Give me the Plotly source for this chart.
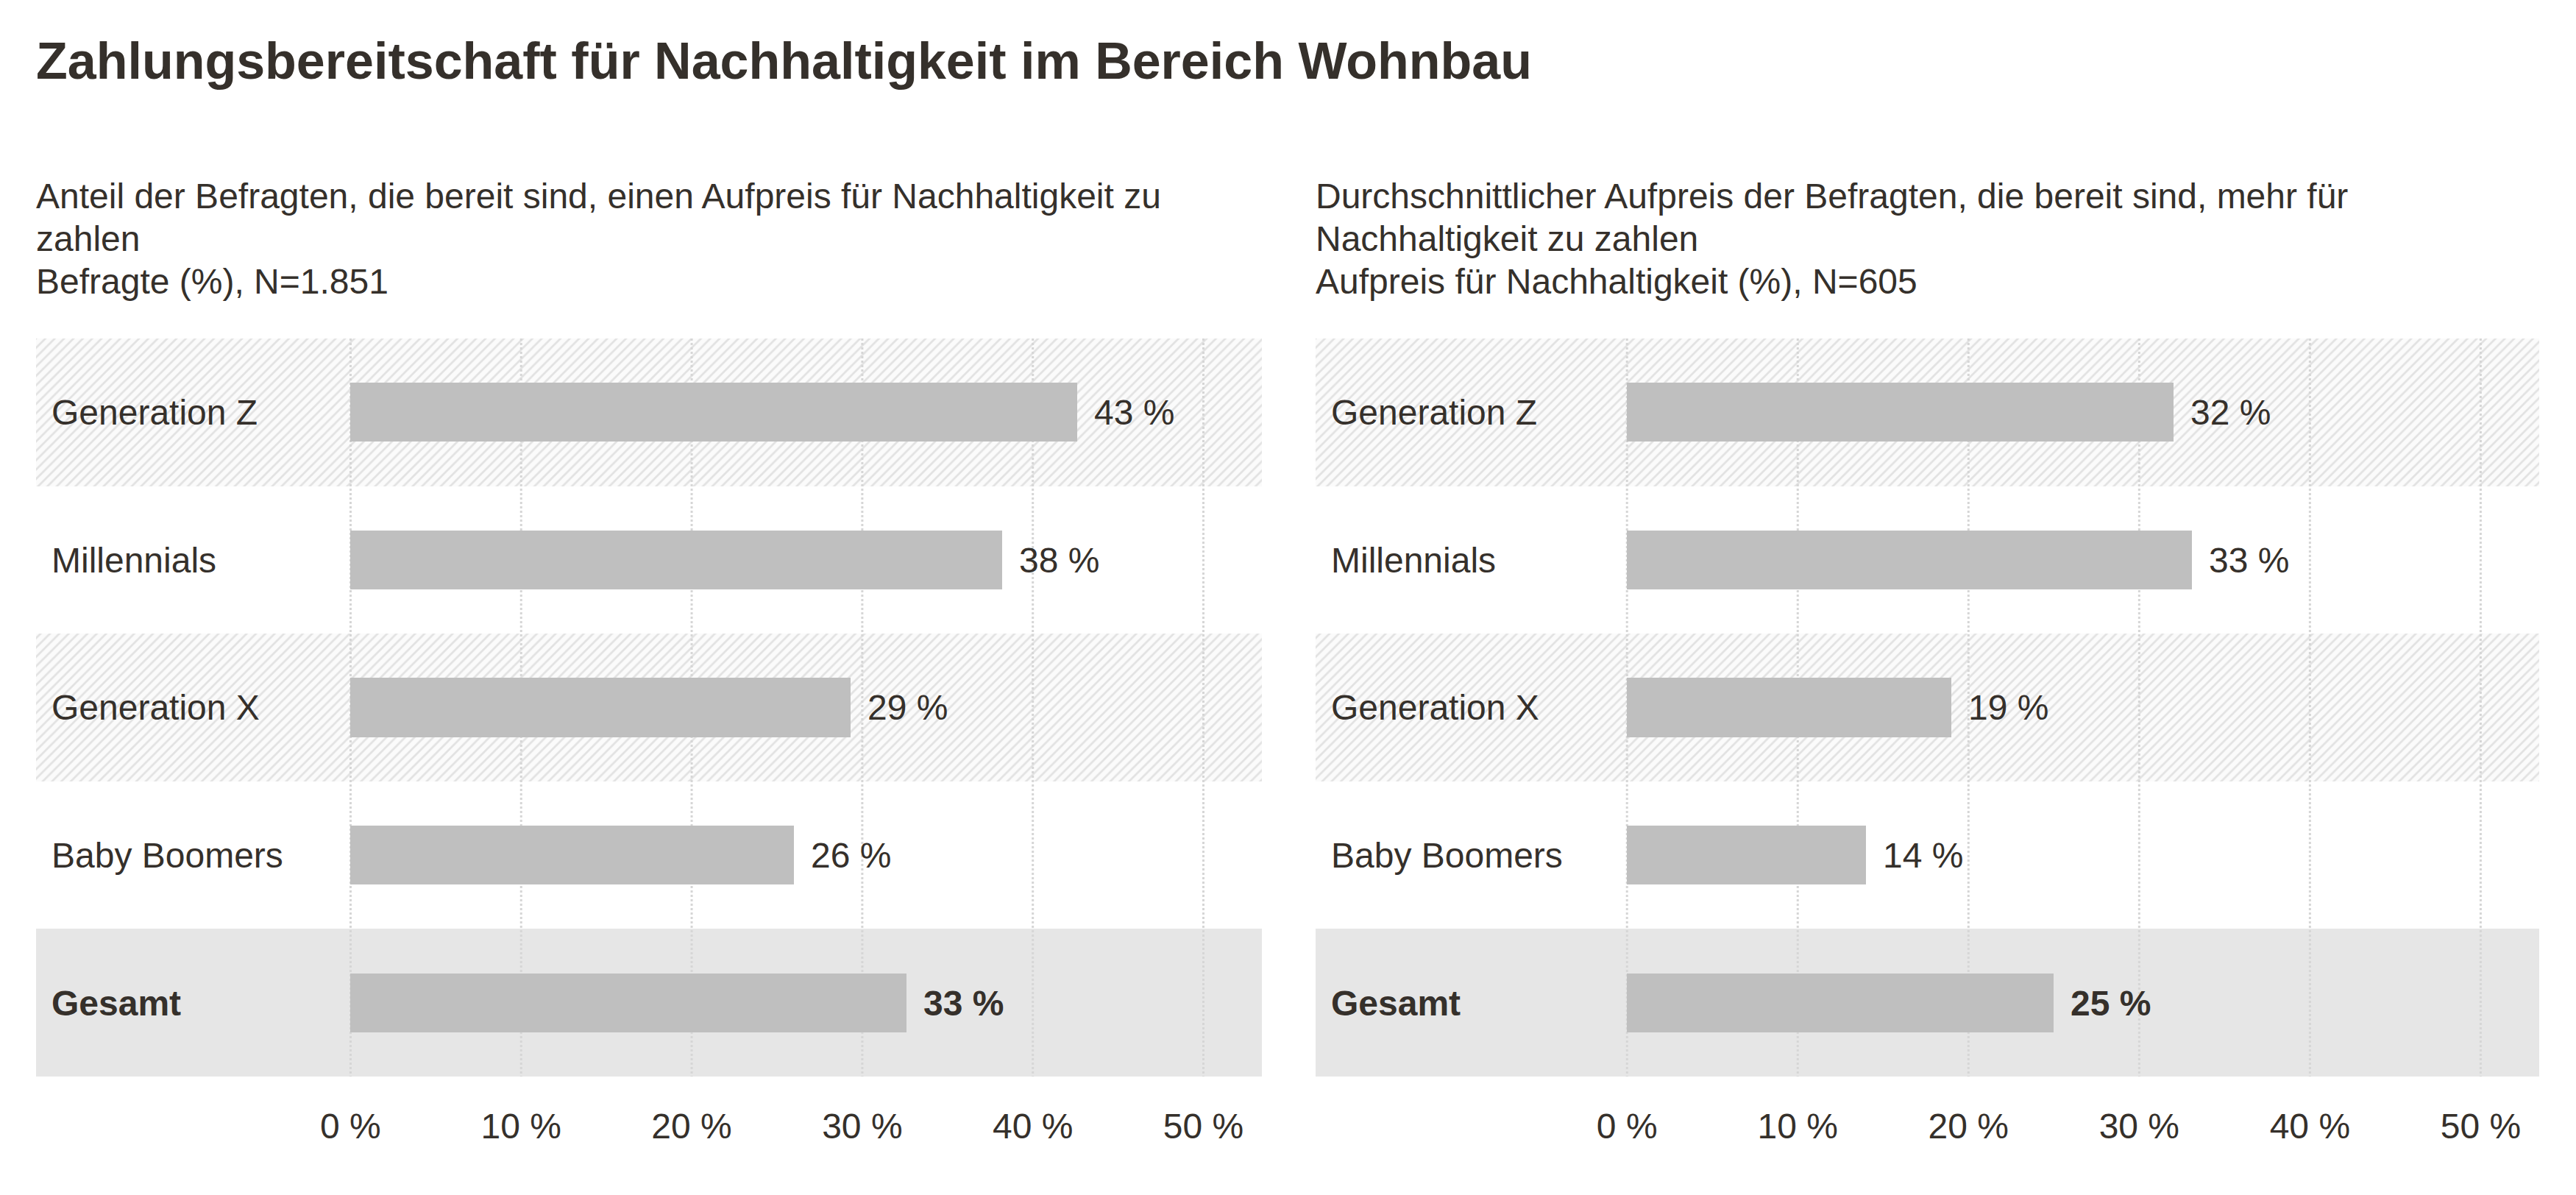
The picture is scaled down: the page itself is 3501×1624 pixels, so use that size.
import plotly.graph_objects as go

# ---------------- data ----------------
categories = ["Generation Z", "Millennials", "Generation X", "Baby Boomers", "Gesamt"]
share_willing = [42.6, 38.2, 29.3, 26.0, 32.6]      # left panel, %
avg_premium = [32.0, 33.1, 19.0, 14.0, 25.0]        # right panel, %
tick_values = [0, 10, 20, 30, 40, 50]
tick_labels = ["0 %", "10 %", "20 %", "30 %", "40 %", "50 %"]

title_text = "Zahlungsbereitschaft für Nachhaltigkeit im Bereich Wohnbau"
sub_left = ["Anteil der Befragten, die bereit sind, einen Aufpreis für Nachhaltigkeit zu",
            "zahlen", "Befragte (%), N=1.851"]
sub_right = ["Durchschnittlicher Aufpreis der Befragten, die bereit sind, mehr für",
             "Nachhaltigkeit zu zahlen", "Aufpreis für Nachhaltigkeit (%), N=605"]

# ---------------- style ----------------
W, H = 3501, 1624
OFF = 8                       # default page body margin
FW, FH = W - 2 * OFF, H - 2 * OFF
FONT = "Liberation Sans, Arial, Helvetica, sans-serif"
TXT = "#35302b"
BAR = "#bfbfbf"
BAND_SOLID = "#e6e6e6"
GRID = "#d6d6d6"
FS = 48


def px(x):
    return (x - OFF) / FW


def py(y):
    return 1 - (y - OFF) / FH


panels = [
    dict(vals=share_willing, sub=sub_left, x0=49, x1=1715, rng=[-18.44, 53.43]),
    dict(vals=avg_premium, sub=sub_right, x0=1788, x1=3451, rng=[-18.24, 53.43]),
]
plot_top, plot_bot = 460, 1463
ydom = [py(plot_bot), py(plot_top)]
n = len(categories)
ypos = list(range(n))
yrange = [n - 0.5, -0.5]
band_style = ["hatch", None, "hatch", None, "solid"]

fig = go.Figure()
annotations = []
layout_axes = {}

for i, p in enumerate(panels):
    base_idx = 2 * i + 1
    over_idx = 2 * i + 2
    xa = "x" if base_idx == 1 else f"x{base_idx}"
    ya = "y" if base_idx == 1 else f"y{base_idx}"
    xo, yo = f"x{over_idx}", f"y{over_idx}"
    xmin, xmax = p["rng"]
    dom = [px(p["x0"]), px(p["x1"])]

    # background bands
    hy = [ypos[k] for k in range(n) if band_style[k] == "hatch"]
    fig.add_trace(go.Bar(
        orientation="h", y=hy, x=[xmax - xmin] * len(hy), base=[xmin] * len(hy),
        width=1, xaxis=xa, yaxis=ya, hoverinfo="skip", showlegend=False,
        marker=dict(color="white", line=dict(width=0),
                    pattern=dict(shape="/", size=9, solidity=0.3,
                                 fgcolor="#e2e2e2", bgcolor="#fbfbfb", fgopacity=1)),
    ))
    sy = [ypos[k] for k in range(n) if band_style[k] == "solid"]
    fig.add_trace(go.Bar(
        orientation="h", y=sy, x=[xmax - xmin] * len(sy), base=[xmin] * len(sy),
        width=1, xaxis=xa, yaxis=ya, hoverinfo="skip", showlegend=False,
        marker=dict(color=BAND_SOLID, line=dict(width=0)),
    ))
    # dotted gridlines above bands
    gx, gy = [], []
    for t in tick_values:
        gx += [t, t, None]
        gy += [yrange[1], yrange[0], None]
    fig.add_trace(go.Scatter(
        x=gx, y=gy, mode="lines", xaxis=xa, yaxis=ya, hoverinfo="skip",
        showlegend=False, line=dict(color=GRID, width=3, dash="dot"),
    ))
    # data bars (overlay subplot so they sit above the gridlines)
    labels = []
    for k, v in enumerate(p["vals"]):
        s = f"{round(v)} %"
        labels.append("\u2004\u200a" + (f"<b>{s}</b>" if categories[k] == "Gesamt" else s))
    fig.add_trace(go.Bar(
        orientation="h", y=ypos, x=p["vals"], width=0.4, xaxis=xo, yaxis=yo,
        marker=dict(color=BAR, line=dict(width=0)),
        text=labels, textposition="outside", cliponaxis=False,
        constraintext="none",
        textfont=dict(family=FONT, size=FS, color=TXT),
        hoverinfo="skip", showlegend=False,
    ))

    axkey = "xaxis" if base_idx == 1 else f"xaxis{base_idx}"
    aykey = "yaxis" if base_idx == 1 else f"yaxis{base_idx}"
    layout_axes[axkey] = dict(
        domain=dom, range=[xmin, xmax], anchor=ya, tickmode="array",
        tickvals=tick_values, ticktext=tick_labels, showgrid=False,
        zeroline=False, showline=False, ticks="", ticklabelstandoff=35,
        tickfont=dict(family=FONT, size=FS, color=TXT), fixedrange=True,
    )
    layout_axes[aykey] = dict(
        domain=ydom, range=yrange, anchor=xa, tickmode="array",
        tickvals=ypos,
        ticktext=[f"<b>{c}</b>" if c == "Gesamt" else c for c in categories],
        ticklabelposition="inside", ticklabelstandoff=18,
        showgrid=False, zeroline=False, showline=False, ticks="",
        tickfont=dict(family=FONT, size=FS, color=TXT), fixedrange=True,
    )
    layout_axes[f"xaxis{over_idx}"] = dict(
        domain=dom, range=[xmin, xmax], overlaying=xa, anchor=yo,
        visible=False, fixedrange=True,
    )
    layout_axes[f"yaxis{over_idx}"] = dict(
        domain=ydom, range=yrange, overlaying=ya, anchor=xo,
        visible=False, fixedrange=True,
    )

    for li, line in enumerate(p["sub"]):
        annotations.append(dict(
            text=line, xref="paper", yref="paper", x=px(p["x0"] - 2),
            y=py(238 + 58 * li), xanchor="left", yanchor="top", align="left",
            showarrow=False, font=dict(family=FONT, size=FS, color=TXT),
        ))

annotations.append(dict(
    text=f"<b>{title_text}</b>", xref="paper", yref="paper", x=px(47),
    y=py(42), xanchor="left", yanchor="top", align="left",
    showarrow=False, font=dict(family=FONT, size=70, color=TXT),
))

fig.update_layout(
    width=FW, height=FH, margin=dict(l=0, r=0, t=0, b=0),
    paper_bgcolor="white", plot_bgcolor="white",
    barmode="overlay", bargap=0, showlegend=False,
    annotations=annotations, **layout_axes,
)

fig.write_html("out.html", config={"displayModeBar": False})
